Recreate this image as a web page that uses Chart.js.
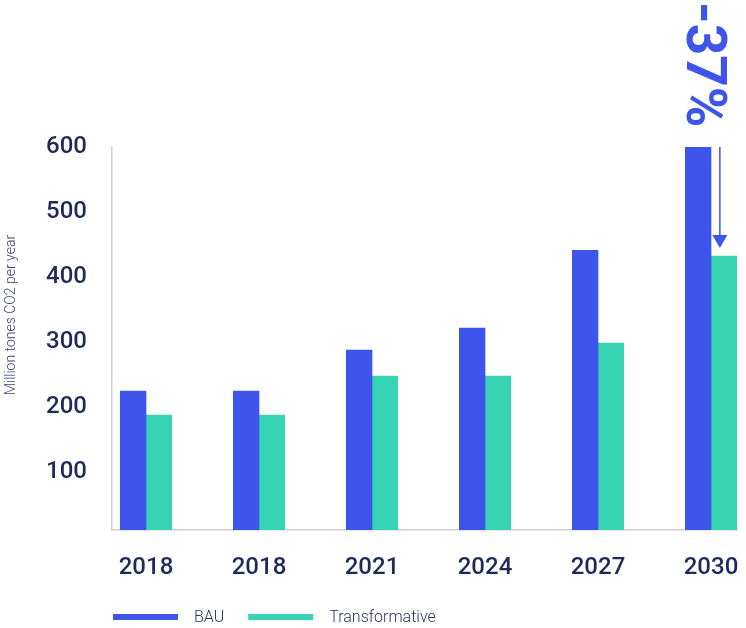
<!DOCTYPE html>
<html>
<head>
<meta charset="utf-8">
<script src="https://cdn.jsdelivr.net/npm/chart.js@4.4.1/dist/chart.umd.min.js"></script>
<style>
  html, body { margin: 0; padding: 0; background: #ffffff; }
  #wrap { width: 746px; height: 628px; position: relative; }
</style>
</head>
<body>
<div id="wrap"><canvas id="c" width="746" height="628"></canvas></div>
<script>
// ---- data ----
const categories = ['2018', '2018', '2021', '2024', '2027', '2030'];
const bauValues = [224, 224, 287, 321, 441, 600];
const transformativeValues = [187, 187, 247, 247, 298, 432];
const yTickValues = [100, 200, 300, 400, 500, 600];
const seriesNames = ['BAU', 'Transformative'];
const yAxisTitle = 'Million tones CO2 per year';
const annotationText = '-37%';

// ---- styles ----
const BLUE = '#3D55EA';
const TEAL = '#37D4B4';
const NAVY = '#1F2A5A';
const AXIS = '#CFCFD4';

const toPoints = (vals) => vals.map((v, i) => ({ x: i, y: v }));

const overlayPlugin = {
  id: 'overlay',
  afterDraw(chart) {
    const ctx = chart.ctx;
    const area = chart.chartArea;
    // y axis title
    ctx.save();
    ctx.translate(11, 315);
    ctx.rotate(-Math.PI / 2);
    ctx.fillStyle = '#3A4472';
    ctx.font = '300 14px Roboto';
    ctx.textAlign = 'center';
    ctx.textBaseline = 'middle';
    ctx.fillText(yAxisTitle, 0, 0);
    ctx.restore();

    // annotation on the last group
    const last = categories.length - 1;
    const bauBar = chart.getDatasetMeta(0).data[last];
    const trBar = chart.getDatasetMeta(1).data[last];
    if (bauBar && trBar) {
      const ax = trBar.x - 4;
      const y0 = bauBar.y;
      const tip = trBar.y - 8;
      ctx.save();
      ctx.strokeStyle = BLUE;
      ctx.fillStyle = BLUE;
      ctx.lineWidth = 1.5;
      ctx.beginPath();
      ctx.moveTo(ax, y0);
      ctx.lineTo(ax, tip - 12);
      ctx.stroke();
      ctx.beginPath();
      ctx.moveTo(ax - 7.5, tip - 13);
      ctx.lineTo(ax + 7.5, tip - 13);
      ctx.lineTo(ax, tip);
      ctx.closePath();
      ctx.fill();
      // rotated text
      ctx.translate(ax - 33, 2);
      ctx.rotate(Math.PI / 2);
      ctx.font = '700 55px Roboto';
      ctx.textAlign = 'left';
      ctx.textBaseline = 'alphabetic';
      ctx.fillText(annotationText, 0, 0);
      ctx.restore();
    }

    // legend
    ctx.save();
    const colors = [BLUE, TEAL];
    let x = area.left + 1;
    const cy = 617;
    ctx.font = '300 16px Roboto';
    ctx.textBaseline = 'middle';
    ctx.textAlign = 'left';
    seriesNames.forEach((name, i) => {
      ctx.fillStyle = colors[i];
      ctx.fillRect(x, cy - 3, 65, 6);
      x += 65 + 16;
      ctx.fillStyle = '#2A3566';
      ctx.fillText(name, x, cy + 1);
      x += ctx.measureText(name).width + 24;
    });
    ctx.restore();
  }
};

new Chart(document.getElementById('c'), {
  type: 'bar',
  data: {
    datasets: [
      { label: seriesNames[0], data: toPoints(bauValues), backgroundColor: BLUE, borderWidth: 0 },
      { label: seriesNames[1], data: toPoints(transformativeValues), backgroundColor: TEAL, borderWidth: 0 }
    ]
  },
  options: {
    responsive: false,
    devicePixelRatio: 1,
    animation: false,
    layout: { padding: { top: 147, right: 9, left: 0, bottom: 0 } },
    datasets: { bar: { barThickness: 25.7 } },
    plugins: { legend: { display: false }, tooltip: { enabled: false } },
    scales: {
      x: {
        type: 'linear',
        offset: false,
        min: -0.3009,
        max: 5.230,
        grid: { display: true, color: 'rgba(0,0,0,0)', drawTicks: false, offset: false },
        border: { display: true, color: AXIS, width: 1.5 },
        afterBuildTicks: (s) => { s.ticks = categories.map((c, i) => ({ value: i })); },
        afterFit: (s) => { s.height = 98; s.paddingLeft = 0; s.paddingRight = 0; },
        ticks: {
          padding: 24,
          color: NAVY,
          font: { family: 'Roboto', size: 24, weight: '500' },
          maxRotation: 0,
          autoSkip: false,
          callback: (v) => categories[v]
        }
      },
      y: {
        min: 10,
        max: 600,
        grid: { display: true, color: 'rgba(0,0,0,0)', drawTicks: false },
        border: { display: true, color: AXIS, width: 1.5 },
        afterBuildTicks: (s) => { s.ticks = yTickValues.map(v => ({ value: v })); },
        afterFit: (s) => { s.width = 112; s.paddingTop = 0; s.paddingBottom = 0; },
        ticks: {
          padding: 25,
          color: NAVY,
          font: { family: 'Roboto', size: 24, weight: '500' }
        }
      }
    }
  },
  plugins: [overlayPlugin]
});
</script>
</body>
</html>
